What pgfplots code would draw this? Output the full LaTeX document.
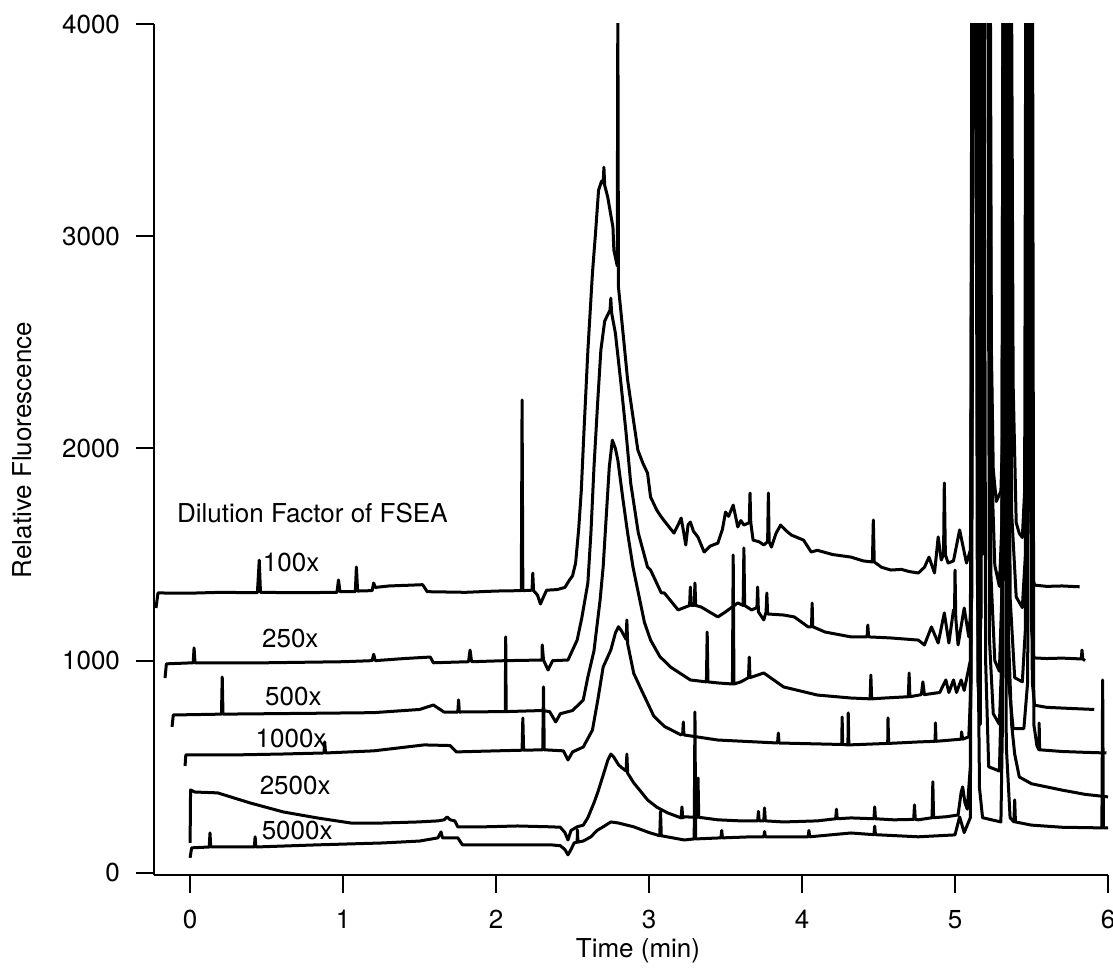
\documentclass[border=0pt]{standalone}
\usepackage{pgfplots}
\pgfplotsset{compat=1.18}
\usepackage{fontspec}
\setmainfont{TeX Gyre Heros}
\tikzset{trace/.style={black, line width=1.5pt, line join=round}}
\begin{document}
\begin{tikzpicture}[font=\fontsize{13}{15}\selectfont]
\path[use as bounding box] (-77pt,-47pt) rectangle (479.5pt,437.5pt);
\begin{axis}[
 name=ax, at={(0,0)}, anchor=south west,
 scale only axis, width=477pt, height=425.5pt,
 xmin=-0.236, xmax=6, ymin=-10, ymax=4000,
 axis x line*=bottom, axis y line*=left,
 axis line style={line width=1pt},
 xtick align=outside, ytick align=outside, major tick length=9pt,
 xtick style={black, line width=1pt},
 ytick style={black, line width=1pt},
 xtick={0,...,6}, ytick={0,1000,2000,3000,4000},
 /pgf/number format/assume math mode=true,
 /pgf/number format/set thousands separator={},
 tick label style={font=\fontsize{13}{15}\selectfont},
 yticklabel style={xshift=-4.5pt},
 xticklabel shift=5pt,
]
% 100x
\addplot[trace] coordinates {
(-0.223,1248) (-0.21,1319) (0.0,1318) (0.2,1322) (0.44,1320) (0.452,1474) (0.46,1322) (0.7,1320) (0.96,1322) (0.97,1380) (0.98,1325) (1.08,1325) (1.087,1441) (1.095,1328) (1.19,1330) (1.2,1366) (1.21,1345) (1.3,1352) (1.45,1356) (1.52,1358) (1.55,1325) (1.8,1322) (2.0,1328) (2.165,1330) (2.17,2228) (2.175,1330) (2.235,1332) (2.24,1413) (2.245,1330) (2.27,1310) (2.29,1267) (2.31,1300) (2.33,1332) (2.4,1335) (2.45,1345) (2.48,1380) (2.50,1400)
(2.52,1460) (2.54,1620) (2.557,1800) (2.574,2072) (2.60,2460) (2.63,2826) (2.65,3014) (2.67,3217) (2.69,3260) (2.70,3250) (2.705,3325) (2.71,3240) (2.73,3184) (2.75,3100) (2.764,3043) (2.77,2934) (2.792,2860) (2.796,4100) (2.80,2760)
(2.83,2543) (2.86,2322) (2.895,2148) (2.927,1992) (2.96,1930) (2.99,1884) (3.01,1771) (3.05,1710) (3.08,1677) (3.12,1640) (3.163,1601) (3.19,1640) (3.21,1672) (3.225,1610) (3.24,1545) (3.255,1640) (3.27,1653) (3.29,1610) (3.32,1582) (3.36,1512) (3.40,1540) (3.45,1554) (3.48,1620) (3.50,1700) (3.52,1680) (3.55,1733) (3.58,1630) (3.60,1660) (3.62,1639) (3.655,1650) (3.66,1790) (3.665,1650) (3.68,1568) (3.72,1560) (3.75,1545) (3.775,1560) (3.78,1790) (3.785,1560) (3.80,1535) (3.83,1600) (3.86,1639) (3.90,1610) (3.93,1592) (4.01,1568) (4.06,1512) (4.10,1520) (4.2,1500) (4.32,1488) (4.40,1470) (4.46,1465) (4.466,1663) (4.472,1465) (4.52,1440) (4.58,1427) (4.65,1430) (4.70,1420) (4.76,1413) (4.80,1440) (4.83,1488) (4.866,1413) (4.89,1583) (4.91,1474) (4.925,1500) (4.93,1837) (4.937,1500) (4.955,1460) (4.99,1470) (5.03,1616) (5.075,1460)
(5.10,1520) (5.112,2200) (5.118,5000) (5.16,5000) (5.168,2800) (5.178,2500) (5.188,5000) (5.225,5000) (5.235,2600) (5.25,1900) (5.27,1750) (5.30,1800) (5.325,2400) (5.34,5000) (5.365,5000) (5.38,2300) (5.40,1650) (5.42,1600) (5.44,1580) (5.455,1800) (5.465,5000) (5.485,5000) (5.495,1700) (5.505,1400) (5.52,1356) (5.6,1350) (5.7,1352) (5.815,1348)
};
% 250x
\addplot[trace] coordinates {
(-0.164,918) (-0.155,985) (0.02,990) (0.026,1060) (0.032,990) (0.5,990) (1.0,995) (1.19,1000) (1.2,1030) (1.21,1000) (1.4,1010) (1.57,1017) (1.59,990) (1.82,995) (1.83,1050) (1.84,995) (2.06,1000) (2.3,1003) (2.302,1074) (2.31,1003) (2.34,956) (2.37,1000) (2.47,1003) (2.53,1097) (2.56,1200) (2.60,1366) (2.62,1601) (2.64,1912) (2.665,2228) (2.685,2463) (2.71,2600) (2.73,2630) (2.745,2652) (2.75,2708) (2.755,2640) (2.78,2543) (2.816,2308) (2.85,2072) (2.88,1837) (2.93,1601) (2.99,1441) (3.01,1427) (3.08,1319) (3.10,1319) (3.19,1239) (3.265,1260) (3.27,1347) (3.275,1260) (3.295,1260) (3.30,1366) (3.305,1260) (3.34,1253) (3.45,1206) (3.50,1230) (3.58,1272) (3.615,1260) (3.62,1531) (3.625,1260) (3.67,1239) (3.705,1250) (3.71,1347) (3.715,1230) (3.75,1192) (3.765,1230) (3.77,1319) (3.775,1220) (3.88,1215) (3.95,1206) (4.04,1159) (4.062,1160) (4.066,1272) (4.07,1160) (4.15,1135) (4.32,1112) (4.425,1112) (4.43,1168) (4.435,1112) (4.58,1107) (4.76,1097) (4.80,1074) (4.846,1159) (4.89,1083) (4.93,1225) (4.96,1083) (4.99,1239) (4.997,1240) (5.00,1427) (5.005,1200) (5.02,1074) (5.06,1248) (5.09,1112)
(5.11,1300) (5.12,5000) (5.165,5000) (5.172,2000) (5.18,1800) (5.19,5000) (5.228,5000) (5.24,1900) (5.26,1450) (5.29,1350) (5.315,1800) (5.33,5000) (5.355,5000) (5.37,1700) (5.40,1300) (5.44,1250) (5.46,1500) (5.47,5000) (5.49,5000) (5.50,1150) (5.515,1013) (5.6,1010) (5.7,1012) (5.825,1008) (5.83,1050) (5.835,1008) (5.85,1000)
};
% 500x
\addplot[trace] coordinates {
(-0.118,688) (-0.11,744) (0.205,748) (0.21,923) (0.215,748) (0.8,752) (1.2,755) (1.5,770) (1.59,791) (1.66,758) (1.75,758) (1.755,815) (1.76,758) (2.06,760) (2.063,1112) (2.066,760) (2.3,765) (2.35,760) (2.39,711) (2.42,750) (2.5,765) (2.57,815) (2.60,923) (2.64,1046) (2.68,1286) (2.70,1441) (2.72,1677) (2.74,1912) (2.76,2039) (2.78,2000) (2.796,1945) (2.83,1757) (2.86,1601) (2.895,1441) (2.93,1319) (2.97,1180) (3.01,1097) (3.07,1020) (3.14,970) (3.27,909) (3.375,900) (3.38,1135) (3.385,900) (3.45,895) (3.545,890) (3.55,1498) (3.555,890) (3.60,900) (3.65,920) (3.655,1017) (3.66,920) (3.75,942) (3.88,876) (4.10,838) (4.32,824) (4.445,820) (4.45,932) (4.455,820) (4.54,824) (4.695,830) (4.70,942) (4.705,830) (4.78,840) (4.79,900) (4.80,840) (4.90,850) (4.94,909) (4.96,850) (4.99,909) (5.01,850) (5.04,909) (5.06,860)
(5.10,1000) (5.115,5000) (5.16,5000) (5.17,1600) (5.18,1500) (5.19,5000) (5.222,5000) (5.235,1400) (5.26,1000) (5.29,950) (5.31,1400) (5.322,5000) (5.345,5000) (5.36,1300) (5.39,920) (5.44,900) (5.46,1150) (5.472,5000) (5.492,5000) (5.505,900) (5.52,790) (5.6,780) (5.75,775) (5.91,770)
};
% 1000x
\addplot[trace] coordinates {
(-0.033,504) (-0.028,556) (0.3,556) (0.6,560) (0.875,565) (0.88,617) (0.885,565) (1.2,575) (1.53,603) (1.70,600) (1.74,570) (2.0,575) (2.17,578) (2.175,730) (2.18,578) (2.305,580) (2.31,876) (2.315,580) (2.44,575) (2.47,532) (2.50,570) (2.57,593) (2.63,673) (2.665,815) (2.70,970) (2.75,1050) (2.78,1130) (2.80,1160) (2.82,1140) (2.85,1100) (2.855,1192) (2.86,1080) (2.90,940) (2.95,862) (3.03,740) (3.10,690) (3.21,650) (3.22,659) (3.224,711) (3.228,650) (3.45,626) (3.84,612) (3.845,659) (3.85,612) (4.26,605) (4.262,735) (4.266,605) (4.30,603) (4.302,754) (4.306,603) (4.56,610) (4.562,730) (4.566,610) (4.76,617) (4.87,620) (4.872,707) (4.876,620) (5.04,630) (5.043,664) (5.05,630) (5.09,641)
(5.105,900) (5.113,5000) (5.15,5000) (5.16,1300) (5.17,1200) (5.18,5000) (5.212,5000) (5.225,1100) (5.25,750) (5.29,700) (5.305,1000) (5.315,5000) (5.335,5000) (5.35,900) (5.38,680) (5.45,680) (5.475,900) (5.487,5000) (5.505,5000) (5.515,700) (5.535,600) (5.548,580) (5.55,706) (5.553,580) (5.7,572) (5.85,568) (5.99,565)
};
% 2500x
\addplot[trace] coordinates {
(0.0,141) (0.003,391) (0.03,381) (0.18,377) (0.39,330) (0.61,287) (0.83,259) (1.05,235) (1.26,235) (1.49,240) (1.62,245) (1.66,250) (1.68,264) (1.70,250) (1.73,245) (1.75,217) (1.92,217) (2.14,221) (2.36,217) (2.42,215) (2.45,190) (2.47,155) (2.49,200) (2.53,217) (2.57,225) (2.60,260) (2.64,330) (2.665,380) (2.70,460) (2.73,530) (2.75,560) (2.77,545) (2.80,510) (2.816,499) (2.85,480) (2.855,560) (2.86,470) (2.90,424) (2.95,380) (2.99,344) (3.05,310) (3.12,283) (3.21,259) (3.215,311) (3.22,259) (3.23,264) (3.315,262) (3.32,447) (3.325,262) (3.45,250) (3.6,245) (3.71,245) (3.715,290) (3.72,245) (3.75,245) (3.755,306) (3.76,245) (3.88,240) (4.10,245) (4.22,255) (4.225,300) (4.23,255) (4.32,259) (4.47,255) (4.475,311) (4.48,255) (4.60,250) (4.73,252) (4.735,320) (4.74,252) (4.76,250) (4.85,260) (4.855,429) (4.86,260) (4.95,265) (5.02,273) (5.04,380) (5.05,405) (5.065,330) (5.08,300)
(5.10,500) (5.112,5000) (5.14,5000) (5.15,900) (5.165,700) (5.178,4500) (5.19,4500) (5.2,1000) (5.22,500) (5.29,480) (5.305,900) (5.315,5000) (5.33,5000) (5.345,1200) (5.37,700) (5.39,560) (5.42,452) (5.5,420) (5.7,390) (5.85,370) (6.0,358)
};
% 5000x
\addplot[trace] coordinates {
(0.0,71) (0.01,118) (0.125,122) (0.13,188) (0.135,122) (0.42,122) (0.425,170) (0.43,122) (0.83,132) (1.26,141) (1.5,150) (1.62,165) (1.64,193) (1.65,165) (1.75,165) (1.78,132) (2.14,132) (2.36,132) (2.42,128) (2.45,110) (2.47,85) (2.49,110) (2.51,141) (2.53,145) (2.532,203) (2.535,145) (2.57,150) (2.62,170) (2.66,200) (2.70,217) (2.75,240) (2.80,235) (2.90,217) (3.00,190) (3.07,175) (3.075,290) (3.08,175) (3.23,155) (3.295,160) (3.30,758) (3.305,160) (3.47,165) (3.475,200) (3.48,165) (3.67,170) (3.75,170) (3.755,195) (3.76,170) (4.04,170) (4.045,200) (4.05,170) (4.32,188) (4.47,180) (4.475,220) (4.48,180) (4.76,170) (5.00,179) (5.03,264) (5.06,190) (5.10,260)
(5.115,3000) (5.125,5000) (5.135,5000) (5.145,1500) (5.16,400) (5.18,260) (5.30,240) (5.31,700) (5.317,5000) (5.325,5000) (5.335,600) (5.36,260) (5.385,240) (5.39,344) (5.395,240) (5.5,225) (5.7,215) (5.96,212) (5.965,909) (5.97,212) (6.0,212)
};
\node[anchor=base west] at (axis cs:-0.131,1653) {Dilution Factor of FSEA};
\node[anchor=base] at (axis cs:0.66,1418) {100x};
\node[anchor=base] at (axis cs:0.655,1064) {250x};
\node[anchor=base] at (axis cs:0.675,791) {500x};
\node[anchor=base] at (axis cs:0.66,593) {1000x};
\node[anchor=base] at (axis cs:0.687,367) {2500x};
\node[anchor=base] at (axis cs:0.70,155) {5000x};
\end{axis}
\node[anchor=center] at (242pt,-38pt) {Time (min)};
\node[anchor=center, rotate=90] at (-66pt,212.5pt) {Relative Fluorescence};
\end{tikzpicture}
\end{document}
